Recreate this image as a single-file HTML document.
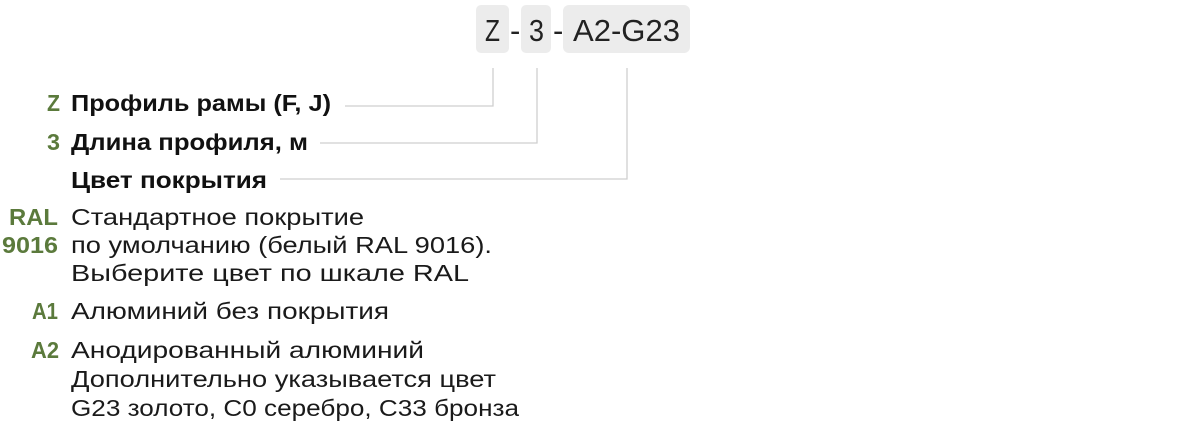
<!DOCTYPE html>
<html><head><meta charset="utf-8"><style>
html,body{margin:0;padding:0;background:#fff;width:1200px;height:424px;overflow:hidden}
text{font-family:"Liberation Sans",sans-serif}
.b{font-weight:bold;fill:#111}
.n{fill:#1a1a1a}
.g{fill:#5b7a3c;font-weight:bold}
</style></head><body>
<svg width="1200" height="424" viewBox="0 0 1200 424" xmlns="http://www.w3.org/2000/svg">
<rect x="476" y="5" width="33" height="48" rx="5" fill="#ececec"/>
<rect x="521" y="5" width="30" height="48" rx="5" fill="#ececec"/>
<rect x="563" y="5" width="127" height="48" rx="6" fill="#ececec"/>
<g font-size="31" fill="#222">
<text x="485" y="41" textLength="15" lengthAdjust="spacingAndGlyphs">Z</text>
<text x="510" y="41">-</text>
<text x="529" y="41" textLength="15" lengthAdjust="spacingAndGlyphs">3</text>
<text x="553" y="41">-</text>
<text x="573" y="41" textLength="107" lengthAdjust="spacingAndGlyphs">A2-G23</text>
</g>
<g fill="none" stroke="#cfcfcf" stroke-width="1.3">
<polyline points="345,106 493,106 493,68"/>
<polyline points="320,143 537,143 537,68"/>
<polyline points="280,179 627,179 627,68"/>
</g>
<g font-size="23">
<text class="g" x="60" y="111" text-anchor="end" textLength="13" lengthAdjust="spacingAndGlyphs">Z</text>
<text class="g" x="60" y="150" text-anchor="end" textLength="13" lengthAdjust="spacingAndGlyphs">3</text>
<text class="g" x="58" y="225" text-anchor="end" textLength="49" lengthAdjust="spacingAndGlyphs">RAL</text>
<text class="g" x="58" y="253" text-anchor="end" textLength="56" lengthAdjust="spacingAndGlyphs">9016</text>
<text class="g" x="58" y="319" text-anchor="end" textLength="26" lengthAdjust="spacingAndGlyphs">A1</text>
<text class="g" x="59" y="358" text-anchor="end" textLength="28" lengthAdjust="spacingAndGlyphs">A2</text>
<text class="b" x="71" y="111" textLength="260" lengthAdjust="spacingAndGlyphs">Профиль рамы (F, J)</text>
<text class="b" x="71" y="150" textLength="237" lengthAdjust="spacingAndGlyphs">Длина профиля, м</text>
<text class="b" x="71" y="188" textLength="196" lengthAdjust="spacingAndGlyphs">Цвет покрытия</text>
<text class="n" x="71" y="225" textLength="293" lengthAdjust="spacingAndGlyphs">Стандартное покрытие</text>
<text class="n" x="71" y="253" textLength="421" lengthAdjust="spacingAndGlyphs">по умолчанию (белый RAL 9016).</text>
<text class="n" x="71" y="281" textLength="398" lengthAdjust="spacingAndGlyphs">Выберите цвет по шкале RAL</text>
<text class="n" x="71" y="319" textLength="318" lengthAdjust="spacingAndGlyphs">Алюминий без покрытия</text>
<text class="n" x="71" y="358" textLength="353" lengthAdjust="spacingAndGlyphs">Анодированный алюминий</text>
<text class="n" x="71" y="387" textLength="425" lengthAdjust="spacingAndGlyphs">Дополнительно указывается цвет</text>
<text class="n" x="71" y="416" textLength="448" lengthAdjust="spacingAndGlyphs">G23 золото, C0 серебро, C33 бронза</text>
</g>
</svg>
</body></html>
